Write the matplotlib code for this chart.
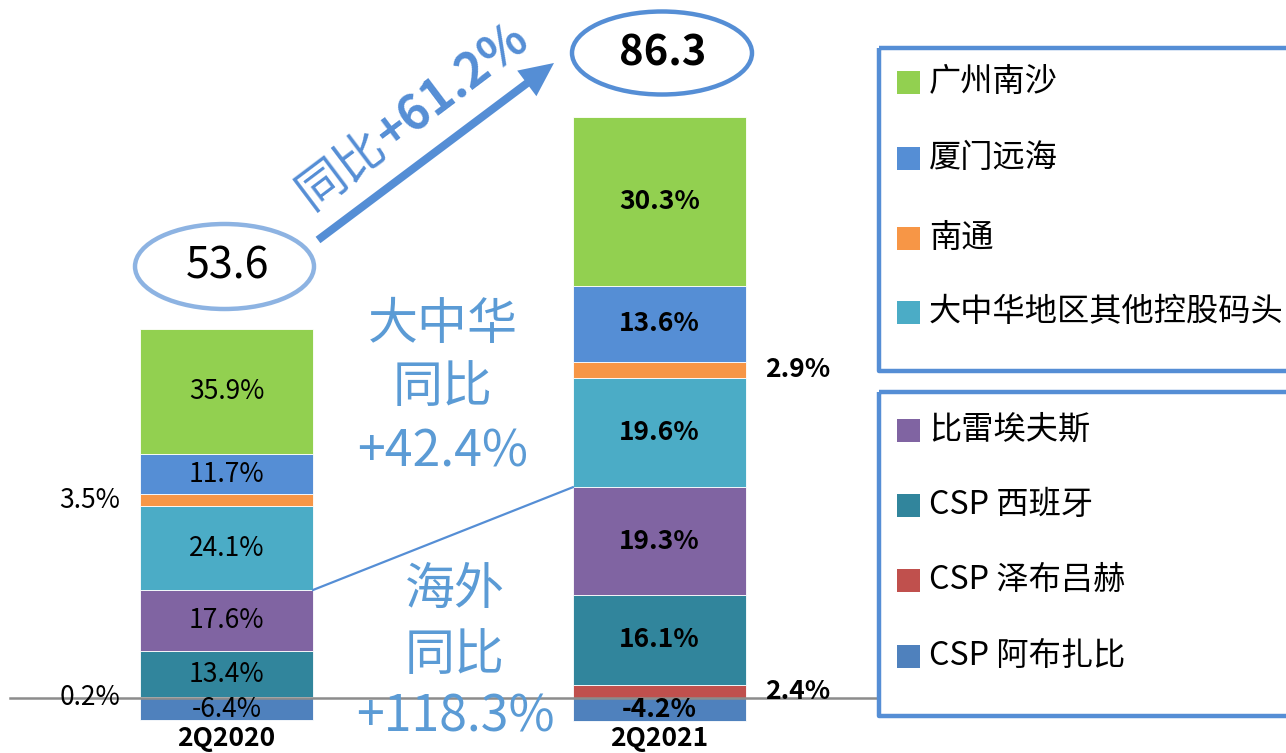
import matplotlib
matplotlib.use("Agg")
import matplotlib.pyplot as plt
from matplotlib.patches import Ellipse, Rectangle
import numpy as np

plt.rcParams['font.family'] = ['Noto Sans CJK SC', 'DejaVu Sans']

# throughput (mn TEU) and share of each terminal group, in %
categories = ['2Q2020', '2Q2021']
totals = [53.6, 86.3]

names = ['CSP 泽布吕赫', 'CSP 西班牙', '比雷埃夫斯', '大中华地区其他控股码头',
         '南通', '厦门远海', '广州南沙']
shares = [
    [0.2, 2.4],     # CSP 泽布吕赫
    [13.4, 16.1],   # CSP 西班牙
    [17.6, 19.3],   # 比雷埃夫斯
    [24.1, 19.6],   # 大中华地区其他控股码头
    [3.5, 2.9],     # 南通
    [11.7, 13.6],   # 厦门远海
    [35.9, 30.3],   # 广州南沙
]
abu_dhabi = [-6.4, -4.2]  # CSP 阿布扎比
colors = ['#c0504d', '#31859c', '#8064a2', '#4bacc6', '#f79646', '#558ed5', '#92d050']
abu_color = '#4f81bd'

legend_top = ['广州南沙', '厦门远海', '南通', '大中华地区其他控股码头']
legend_bottom = ['比雷埃夫斯', 'CSP 西班牙', 'CSP 泽布吕赫', 'CSP 阿布扎比']
total_growth = ['同比', '+61.2%']
gc_growth = ['大中华', '同比', '+42.4%']
overseas_growth = ['海外', '同比', '+118.3%']

fig = plt.figure(figsize=(12.86, 7.53), dpi=100)
ax = fig.add_axes([0, 0, 1, 1])
ax.set_xlim(-0.523, 2.447)
ax.set_ylim(-8.5, 108)
ax.axis('off')

x = np.arange(len(categories))
width = 0.4
totals = np.array(totals)
bottom = np.zeros(len(categories))
tops = []
for name, sh, c in zip(names, shares, colors):
    h = np.array(sh) / 100 * totals
    ax.bar(x, h, width, bottom=bottom, color=c, edgecolor='white', linewidth=0.6, zorder=2)
    for i in range(len(x)):
        wt = 'normal' if i == 0 else 'bold'
        yc = bottom[i] + h[i] / 2
        if sh[i] < 5:
            if i == 0:
                ax.text(x[i] - width / 2 - 0.046, yc, f'{sh[i]:.1f}%', ha='right', va='center',
                        fontsize=19, fontweight=wt, zorder=5)
            else:
                ax.text(x[i] + width / 2 + 0.044, yc, f'{sh[i]:.1f}%', ha='left', va='center',
                        fontsize=19, fontweight=wt, zorder=5)
        else:
            ax.text(x[i], yc, f'{sh[i]:.1f}%', ha='center', va='center',
                    fontsize=19, fontweight=wt, zorder=5)
    bottom = bottom + h
    tops.append(bottom.copy())

h_ab = np.array(abu_dhabi) / 100 * totals
ax.bar(x, h_ab, width, color=abu_color, edgecolor='white', linewidth=0.6, zorder=2)
for i in range(len(x)):
    wt = 'normal' if i == 0 else 'bold'
    ax.text(x[i], h_ab[i] / 2, f'{abu_dhabi[i]:.1f}%', ha='center', va='center',
            fontsize=19, fontweight=wt, zorder=5)

# zero line
ax.axhline(0, xmin=10 / 1286, xmax=878 / 1286, color='#8c8c8c', lw=1.8, zorder=4)

# line joining top of overseas part
ov = tops[2]
ax.plot([x[0] + width / 2, x[1] - width / 2], [ov[0], ov[1]], color='#558ed5', lw=1.6, zorder=3)

# overlay in pixel coordinates
deco = fig.add_axes([0, 0, 1, 1])
deco.set_xlim(0, 1286)
deco.set_ylim(753, 0)
deco.axis('off')
deco.patch.set_alpha(0)

# category labels
for cx, c in zip([226.5, 659.5], categories):
    deco.text(cx, 752, c, ha='center', va='bottom', fontsize=19, fontweight='bold')

deco.add_patch(Ellipse((224.5, 266.5), 179, 85, fill=False, ec='#8db3e2', lw=3.2))
deco.text(228, 266, f'{totals[0]:.1f}', ha='center', va='center', fontsize=31)
deco.add_patch(Ellipse((662, 53), 180, 83, fill=False, ec='#558ed5', lw=3.2))
deco.text(663, 53, f'{totals[1]:.1f}', ha='center', va='center', fontsize=30, fontweight='bold')

deco.arrow(318, 240, 554 - 318, 63 - 240, width=8, head_width=32, head_length=34,
           length_includes_head=True, color='#558ed5', lw=0)

# rotated growth label: "同比" regular, number bold
r = fig.canvas.get_renderer()
ang = np.deg2rad(37)
d = np.array([np.cos(ang), -np.sin(ang)])
parts = []
for txt, wt in zip(total_growth, ['normal', 'bold']):
    t = deco.text(0, 0, txt, fontsize=35, fontweight=wt)
    parts.append((txt, wt, t.get_window_extent(renderer=r).width))
    t.remove()
tot_w = sum(p[2] for p in parts)
pos = np.array([413, 116]) - d * tot_w / 2
for txt, wt, w in parts:
    deco.text(pos[0], pos[1], txt, ha='left', va='center', rotation=37, rotation_mode='anchor',
              fontsize=35, fontweight=wt, color='#558ed5')
    pos = pos + d * w

for txt, yy in zip(gc_growth, [325, 388, 452]):
    deco.text(443, yy, txt, ha='center', va='center', fontsize=36, color='#5b9bd5')
for txt, yy in zip(overseas_growth, [590, 656, 718]):
    deco.text(455, yy, txt, ha='center', va='center', fontsize=36, color='#5b9bd5')

# legend boxes
all_colors = dict(zip(names, colors))
all_colors['CSP 阿布扎比'] = abu_color
for (y0, y1), labels, ys in [((47.5, 371), legend_top, [82, 158, 238, 312]),
                             ((392, 716), legend_bottom, [430, 505, 580, 656])]:
    deco.add_patch(Rectangle((878.5, y0), 420, y1 - y0, fill=False, ec='#558ed5', lw=3.2,
                             joinstyle='round'))
    for lab, yy in zip(labels, ys):
        deco.add_patch(Rectangle((897, yy - 11.5), 23, 23, color=all_colors[lab], lw=0))
        deco.text(929, yy, lab, ha='left', va='center', fontsize=23.2)

fig.savefig('out.png', dpi=100)
